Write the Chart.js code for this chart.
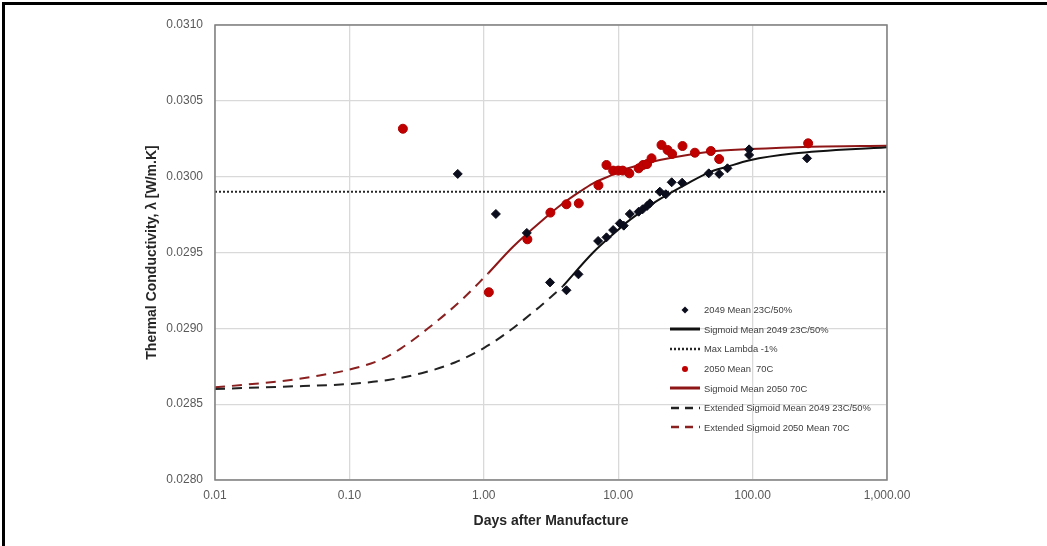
<!DOCTYPE html>
<html>
<head>
<meta charset="utf-8">
<title>Thermal Conductivity vs Days after Manufacture</title>
<script src="https://cdn.jsdelivr.net/npm/chart.js@4.4.1/dist/chart.umd.min.js"></script>
<style>
  body { margin: 0; background: #fff; }
  #wrap { position: relative; width: 1047px; height: 546px; overflow: hidden; }
  #frame { position: absolute; left: 2px; top: 2px; right: 0; bottom: 0;
           border-top: 3px solid #000; border-left: 3px solid #000; pointer-events: none; }
  #my-chart { position: absolute; left: 0; top: 0; }
  #legend { position: absolute; left: 668px; top: 300px; font-family: 'Liberation Sans', Arial, sans-serif;
            font-size: 9.4px; color: #404040; }
  .row { height: 19.6px; display: flex; align-items: center; white-space: pre; }
  .row svg { width: 36px; height: 12px; flex: none; }
</style>
</head>
<body>
<div id="wrap">
  <canvas id="my-chart" width="1047" height="546"></canvas>
  <div id="legend"></div>
  <div id="frame"></div>
</div>
<script>
'use strict';

// x axis ticks
let tickDays = [0.01, 0.1, 1, 10, 100, 1000];
let tickLabelsX = ['0.01', '0.10', '1.00', '10.00', '100.00', '1,000.00'];

// 2049 Mean 23C/50%
let days2049 = [0.64, 1.23, 2.09, 3.11, 4.12, 5.06, 7.09, 8.18, 9.17, 10.28, 11.0, 12.2, 14.2, 15.2, 16.4, 17.2, 20.4, 22.6, 25.0, 29.9, 47.2, 56.4, 65.0, 94.2, 94.2, 254];
let lambda2049 = [0.030018, 0.029754, 0.029629, 0.029303, 0.029251, 0.029356, 0.029576, 0.029600, 0.029648, 0.029692, 0.029677, 0.029754, 0.029769, 0.029785, 0.029807, 0.029824, 0.029901, 0.029884, 0.029963, 0.029960, 0.030022, 0.030018, 0.030055, 0.030180, 0.030143, 0.030121];

// 2050 Mean 70C
let days2050 = [0.25, 1.09, 2.11, 3.13, 4.12, 5.09, 7.13, 8.18, 9.17, 10.0, 10.8, 12.1, 14.2, 15.3, 16.4, 17.7, 21.0, 23.3, 25.2, 30.1, 37.2, 48.9, 56.4, 259];
let lambda2050 = [0.030316, 0.029238, 0.029587, 0.029763, 0.029818, 0.029824, 0.029943, 0.030077, 0.030040, 0.030040, 0.030040, 0.030022, 0.030055, 0.030077, 0.030083, 0.030121, 0.030209, 0.030176, 0.030150, 0.030202, 0.030158, 0.030169, 0.030116, 0.030220];

// sigmoid curves
let sigDays2049 = [3.89, 6.51, 10.3, 11.5, 18.2, 20.4, 32.2, 48.0, 63.9, 95.3, 200, 1000];
let sigLambda2049 = [0.029279, 0.029500, 0.029660, 0.029697, 0.029824, 0.029852, 0.029951, 0.030030, 0.030064, 0.030108, 0.030152, 0.030194];

let sigDays2050 = [1.08, 1.65, 2.93, 3.68, 5.18, 6.51, 9.16, 10.0, 14.5, 20.4, 48.0, 95.3, 267, 1000];
let sigLambda2050 = [0.029363, 0.029538, 0.029736, 0.029808, 0.029901, 0.029956, 0.030015, 0.030033, 0.030077, 0.030110, 0.030165, 0.030182, 0.030198, 0.030204];

let extDays2049 = [0.01, 0.0313, 0.1, 0.194, 0.344, 0.609, 1.0, 1.43, 2.61, 3.28, 3.89];
let extLambda2049 = [0.028600, 0.028615, 0.028633, 0.028660, 0.028704, 0.028775, 0.028870, 0.028960, 0.029143, 0.029220, 0.029279];

let extDays2050 = [0.01, 0.0176, 0.0313, 0.0553, 0.1, 0.173, 0.244, 0.385, 0.683, 1.08];
let extLambda2050 = [0.028611, 0.028630, 0.028652, 0.028684, 0.028728, 0.028795, 0.028870, 0.029000, 0.029187, 0.029363];

let maxLambdaDays = [0.01, 1000];
let maxLambda = [0.0299, 0.0299];

function toPoints(xs, ys) {
  let pts = [];
  for (let i = 0; i < xs.length; i++) {
    pts.push({ x: xs[i], y: ys[i] });
  }
  return pts;
}

function lineSet(label, xs, ys, color, dash, width) {
  return {
    label: label,
    data: toPoints(xs, ys),
    showLine: true,
    borderColor: color,
    backgroundColor: color,
    borderWidth: width,
    borderDash: dash,
    pointRadius: 0,
    cubicInterpolationMode: 'monotone',
    order: 2
  };
}

let datasets = [
  {
    label: '2049 Mean 23C/50%',
    data: toPoints(days2049, lambda2049),
    pointStyle: 'rectRot',
    pointRadius: 4.5,
    borderWidth: 1,
    backgroundColor: '#0b0d1c',
    borderColor: '#0b0d1c',
    showLine: false,
    order: 0
  },
  lineSet('Sigmoid Mean 2049 23C/50%', sigDays2049, sigLambda2049, '#111111', [], 2),
  lineSet('Max Lambda -1%', maxLambdaDays, maxLambda, '#262626', [2, 2], 2),
  {
    label: '2050 Mean  70C',
    data: toPoints(days2050, lambda2050),
    pointStyle: 'circle',
    pointRadius: 4.5,
    borderWidth: 1,
    backgroundColor: '#c00000',
    borderColor: '#b00000',
    showLine: false,
    order: 0
  },
  lineSet('Sigmoid Mean 2050 70C', sigDays2050, sigLambda2050, '#8f1616', [], 2),
  lineSet('Extended Sigmoid Mean 2049 23C/50%', extDays2049, extLambda2049, '#222222', [10, 7], 2),
  lineSet('Extended Sigmoid 2050 Mean 70C', extDays2050, extLambda2050, '#8a2020', [10, 7], 2)
];

let plotBorder = {
  id: 'plotBorder',
  afterDatasetsDraw(chart) {
    let a = chart.chartArea;
    let ctx = chart.ctx;
    ctx.save();
    ctx.strokeStyle = '#7f7f7f';
    ctx.lineWidth = 1.5;
    ctx.strokeRect(a.left, a.top, a.right - a.left, a.bottom - a.top);
    ctx.restore();
  }
};

let canvasElem = document.getElementById('my-chart');

let myChart = new Chart(canvasElem, {
  type: 'scatter',
  data: { datasets: datasets },
  options: {
    responsive: false,
    animation: false,
    layout: { padding: { left: 140, right: 160, top: 25, bottom: 12 } },
    plugins: { legend: { display: false }, tooltip: { enabled: false } },
    scales: {
      x: {
        type: 'logarithmic',
        min: 0.01,
        max: 1000,
        afterBuildTicks: function (scale) {
          scale.ticks = tickDays.map(function (v) { return { value: v }; });
        },
        afterFit: function (scale) { scale.height = 54; },
        ticks: {
          autoSkip: false,
          maxRotation: 0,
          padding: 8,
          color: '#595959',
          font: { family: 'Liberation Sans', size: 12 },
          callback: function (value, index) { return tickLabelsX[index]; }
        },
        grid: { color: '#d9d9d9', lineWidth: 1.3, drawTicks: false },
        border: { display: false },
        title: {
          display: true,
          text: 'Days after Manufacture',
          color: '#262626',
          font: { family: 'Liberation Sans', size: 14, weight: 'bold' }
        }
      },
      y: {
        min: 0.028,
        max: 0.031,
        afterFit: function (scale) { scale.width = 75; },
        ticks: {
          stepSize: 0.0005,
          padding: 12,
          color: '#595959',
          font: { family: 'Liberation Sans', size: 12 },
          callback: function (value) { return value.toFixed(4); }
        },
        grid: { color: '#d9d9d9', lineWidth: 1.3, drawTicks: false },
        border: { display: false },
        title: {
          display: true,
          text: 'Thermal Conductivity, λ [W/m.K]',
          color: '#262626',
          font: { family: 'Liberation Sans', size: 14, weight: 'bold' }
        }
      }
    }
  },
  plugins: [plotBorder]
});

// html legend built from the datasets
let legendElem = document.getElementById('legend');

function swatch(ds) {
  let svg = '<svg viewBox="0 0 36 12">';
  if (!ds.showLine) {
    if (ds.pointStyle === 'rectRot') {
      svg += '<polygon points="17,2.5 20.5,6 17,9.5 13.5,6" fill="' + ds.backgroundColor + '"/>';
    } else {
      svg += '<circle cx="17" cy="6" r="3" fill="' + ds.backgroundColor + '"/>';
    }
  } else {
    let dashed = ds.borderDash.length && ds.borderDash[0] > 5;
    let dash = 'none';
    if (dashed) {
      dash = '8 6';
    } else if (ds.borderDash.length) {
      dash = '2 2';
    }
    let x1 = dashed ? 3 : 2;
    let width = ds.borderDash.length ? 2.4 : 3;
    svg += '<line x1="' + x1 + '" y1="6" x2="32" y2="6" stroke="' + ds.borderColor +
      '" stroke-width="' + width + '" stroke-dasharray="' + dash + '"/>';
  }
  return svg + '</svg>';
}

for (let i = 0; i < myChart.data.datasets.length; i++) {
  let ds = myChart.data.datasets[i];
  let row = document.createElement('div');
  row.className = 'row';
  row.innerHTML = swatch(ds) + '<span>' + ds.label + '</span>';
  legendElem.appendChild(row);
}
</script>
</body>
</html>
